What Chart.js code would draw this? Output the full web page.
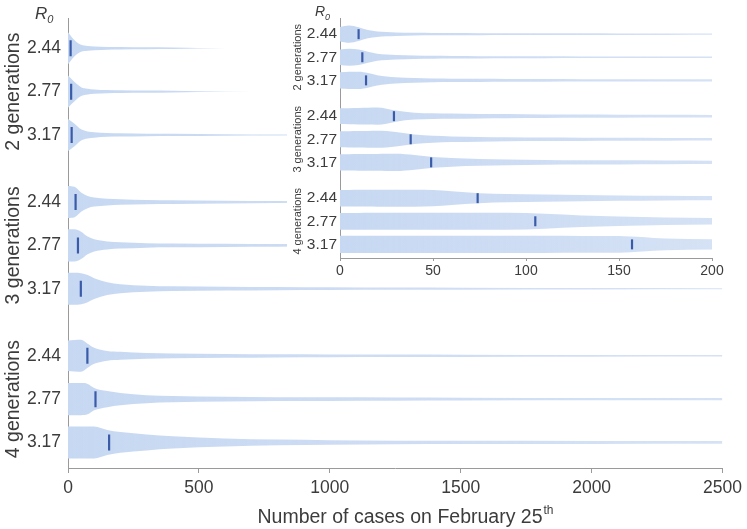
<!DOCTYPE html>
<html>
<head>
<meta charset="utf-8">
<script src="https://cdn.jsdelivr.net/npm/chart.js@4.4.1/dist/chart.umd.min.js"></script>
<style>
  body { margin: 0; background: #fff; }
  #wrap { position: relative; width: 747px; height: 529px; }
  #main { position: absolute; left: 0; top: 0; }
  #inset { position: absolute; left: 287px; top: 0; background: #fff; }
</style>
</head>
<body>
<div id="wrap">
  <canvas id="main" width="747" height="529"></canvas>
  <canvas id="inset" width="460" height="285"></canvas>
</div>
<script>
// groups and R0 values (rows)
var groups = ['2 generations', '3 generations', '4 generations'];
var r0Values = ['2.44', '2.77', '3.17'];
var rowPos = [0, 1, 2, 3.55, 4.55, 5.55, 7.1, 8.1, 9.1];

// median number of cases per row
var medians = [10, 12, 14, 29, 38, 49, 74, 105, 157];

// violin half-widths (relative)
var mainX = [0, 25, 50, 75, 100, 150, 200, 300, 400, 600, 800, 1000, 1250, 1500, 2000, 2500];
var mainWidths = [
    [1, 0.5, 0.22, 0.15, 0.12, 0.09, 0.075, 0.06, 0.05, 0, 0, 0, 0, 0, 0, 0],
    [1, 0.6, 0.28, 0.18, 0.14, 0.1, 0.085, 0.07, 0.055, 0.01, 0, 0, 0, 0, 0, 0],
    [1, 0.7, 0.35, 0.22, 0.17, 0.12, 0.1, 0.08, 0.07, 0.05, 0.035, 0.02, 0.005, 0, 0, 0],
    [1, 0.95, 0.6, 0.38, 0.28, 0.21, 0.17, 0.13, 0.115, 0.09, 0.065, 0.05, 0.035, 0.02, 0, 0],
    [1, 1, 0.85, 0.55, 0.38, 0.25, 0.2, 0.14, 0.12, 0.1, 0.085, 0.07, 0.05, 0.035, 0.01, 0],
    [1, 1, 0.97, 0.85, 0.65, 0.4, 0.28, 0.19, 0.15, 0.12, 0.1, 0.085, 0.07, 0.06, 0.045, 0.035],
    [0.95, 0.98, 1, 0.75, 0.5, 0.3, 0.25, 0.18, 0.15, 0.12, 0.1, 0.09, 0.08, 0.07, 0.055, 0.045],
    [1, 1, 1, 0.95, 0.7, 0.5, 0.38, 0.25, 0.2, 0.15, 0.12, 0.11, 0.1, 0.09, 0.075, 0.065],
    [1, 1, 1, 1, 1, 0.78, 0.65, 0.5, 0.38, 0.25, 0.18, 0.14, 0.11, 0.1, 0.09, 0.085]
];

// violin half-widths (relative), 0-200 cases
var insetX = [0, 5, 10, 15, 20, 25, 30, 40, 50, 60, 75, 90, 110, 130, 150, 175, 200];
var insetWidths = [
    [0.85, 1, 0.8, 0.48, 0.32, 0.25, 0.2, 0.16, 0.14, 0.13, 0.12, 0.11, 0.1, 0.1, 0.09, 0.09, 0.08],
    [0.9, 1, 0.9, 0.65, 0.42, 0.32, 0.26, 0.2, 0.17, 0.15, 0.13, 0.12, 0.11, 0.1, 0.1, 0.09, 0.09],
    [0.95, 1, 1, 0.85, 0.6, 0.45, 0.36, 0.27, 0.22, 0.2, 0.18, 0.16, 0.15, 0.14, 0.13, 0.12, 0.12],
    [0.92, 0.94, 0.96, 0.98, 1, 0.88, 0.65, 0.4, 0.33, 0.3, 0.26, 0.24, 0.21, 0.19, 0.18, 0.16, 0.15],
    [0.93, 0.95, 0.96, 0.98, 1, 0.97, 0.85, 0.55, 0.4, 0.33, 0.28, 0.24, 0.21, 0.19, 0.17, 0.16, 0.15],
    [0.95, 0.96, 0.97, 0.98, 0.99, 1, 1, 0.85, 0.62, 0.5, 0.4, 0.34, 0.29, 0.26, 0.24, 0.22, 0.2],
    [0.97, 0.97, 0.98, 0.98, 0.99, 0.99, 1, 1, 0.95, 0.8, 0.58, 0.48, 0.42, 0.36, 0.31, 0.27, 0.24],
    [0.98, 0.98, 0.98, 0.99, 0.99, 0.99, 1, 1, 1, 1, 1, 1, 0.88, 0.68, 0.55, 0.45, 0.38],
    [1, 1, 1, 1, 1, 1, 1, 1, 1, 1, 1, 1, 1, 0.99, 0.97, 0.68, 0.6]
];

var violinColor = 'rgb(199,216,242)';
var medianColor = 'rgb(58,92,168)';
var textColor = '#3c3c3c';
var axisColor = '#9a9a9a';
var font = "'Liberation Sans', Arial, sans-serif";
var maxHalf = 0.37;

function violinFill(ctx) {
    var area = ctx.chart.chartArea;
    if (!area) return violinColor;
    var g = ctx.chart.ctx.createLinearGradient(area.left, 0, area.right, 0);
    g.addColorStop(0, 'rgba(199,216,242,1)');
    g.addColorStop(1, 'rgba(199,216,242,0.75)');
    return g;
}

function buildDatasets(xs, widths, markRadius) {
    var sets = [];
    widths.forEach(function (w, i) {
        var c = rowPos[i];
        sets.push({
            data: xs.map(function (x, k) { return {x: x, y: c - w[k] * maxHalf}; }),
            borderWidth: 0, pointRadius: 0, fill: false, tension: 0.4,
            cubicInterpolationMode: 'monotone'
        });
        sets.push({
            data: xs.map(function (x, k) { return {x: x, y: c + w[k] * maxHalf}; }),
            borderWidth: 0, pointRadius: 0, fill: '-1', tension: 0.4,
            cubicInterpolationMode: 'monotone',
            backgroundColor: violinFill
        });
    });
    sets.push({
        type: 'scatter',
        order: -1,
        fill: false,
        data: medians.map(function (m, i) { return {x: m, y: rowPos[i]}; }),
        pointStyle: 'line',
        rotation: 90,
        pointRadius: markRadius,
        borderColor: medianColor,
        backgroundColor: medianColor,
        borderWidth: 2.2
    });
    return sets;
}

// group labels, R0 and the axis title drawn on the canvas
function labelsPlugin(groupSize, r0Size, r0x, groupX, title) {
    return {
        id: 'labels',
        afterDraw: function (chart) {
            var c = chart.ctx;
            var y = chart.scales.y;
            c.save();
            c.fillStyle = textColor;
            c.textAlign = 'center';
            c.textBaseline = 'middle';
            c.font = groupSize + 'px ' + font;
            groups.forEach(function (g, i) {
                var cy = y.getPixelForValue(rowPos[i * 3 + 1]);
                c.save();
                c.translate(groupX, cy);
                c.rotate(-Math.PI / 2);
                c.fillText(g, 0, 0);
                c.restore();
            });
            c.textAlign = 'left';
            c.textBaseline = 'alphabetic';
            c.font = 'italic ' + r0Size + 'px ' + font;
            c.fillText('R', r0x, r0Size + 2);
            var rw = c.measureText('R').width;
            c.font = 'italic ' + Math.round(r0Size * 0.65) + 'px ' + font;
            c.fillText('0', r0x + rw, r0Size + 6);
            if (title) {
                c.font = '19.5px ' + font;
                var main = 'Number of cases on February 25';
                var mw = c.measureText(main).width;
                c.font = '12px ' + font;
                var sw = c.measureText('th').width;
                var x0 = 405 - (mw + sw) / 2;
                c.font = '19.5px ' + font;
                c.fillText(main, x0, 523);
                c.font = '12px ' + font;
                c.fillText('th', x0 + mw + 1, 514);
            }
            c.restore();
        }
    };
}

function makeChart(id, xs, widths, opts) {
    return new Chart(document.getElementById(id), {
        type: 'line',
        data: { datasets: buildDatasets(xs, widths, opts.markRadius) },
        options: {
            responsive: false,
            animation: false,
            layout: { padding: { left: 0, top: 18, right: opts.right, bottom: 0 } },
            plugins: { legend: { display: false }, tooltip: { enabled: false } },
            scales: {
                x: {
                    type: 'linear', min: 0, max: opts.xMax,
                    ticks: { stepSize: opts.xStep, color: textColor, padding: opts.tickPad,
                             font: { family: font, size: opts.xFont },
                             callback: function (v) { return String(v); } },
                    grid: { display: true, drawOnChartArea: false, drawTicks: true,
                            tickLength: opts.tickLen, color: axisColor },
                    border: { display: true, color: axisColor, width: 1 },
                    afterFit: function (s) { s.height = opts.xHeight; }
                },
                y: {
                    type: 'linear', reverse: true, min: -0.7, max: 9.69,
                    afterBuildTicks: function (s) {
                        s.ticks = rowPos.map(function (v) { return {value: v}; });
                    },
                    ticks: {
                        autoSkip: false, color: textColor, padding: opts.yPad,
                        font: { family: font, size: opts.yFont },
                        callback: function (v, i) { return r0Values[i % 3]; }
                    },
                    grid: { display: false, drawTicks: false, tickLength: 0 },
                    border: { display: true, color: axisColor, width: 1 },
                    afterFit: function (s) { s.width = opts.yWidth; }
                }
            }
        },
        plugins: [labelsPlugin(opts.groupSize, opts.r0Size, opts.r0x, opts.groupX, opts.title)]
    });
}

makeChart('main', mainX, mainWidths, {
    xMax: 2500, xStep: 500, right: 22, xFont: 17.5, yFont: 17.5, tickPad: 5, tickLen: 5,
    xHeight: 61, yWidth: 68, yPad: 7, markRadius: 8,
    groupSize: 19.5, r0Size: 17, r0x: 35, groupX: 14, title: true
});

makeChart('inset', insetX, insetWidths, {
    xMax: 200, xStep: 50, right: 35, xFont: 14, yFont: 15.5, tickPad: 2, tickLen: 3,
    xHeight: 27, yWidth: 53, yPad: 3, markRadius: 5,
    groupSize: 11, r0Size: 14, r0x: 28, groupX: 11, title: false
});
</script>
</body>
</html>
